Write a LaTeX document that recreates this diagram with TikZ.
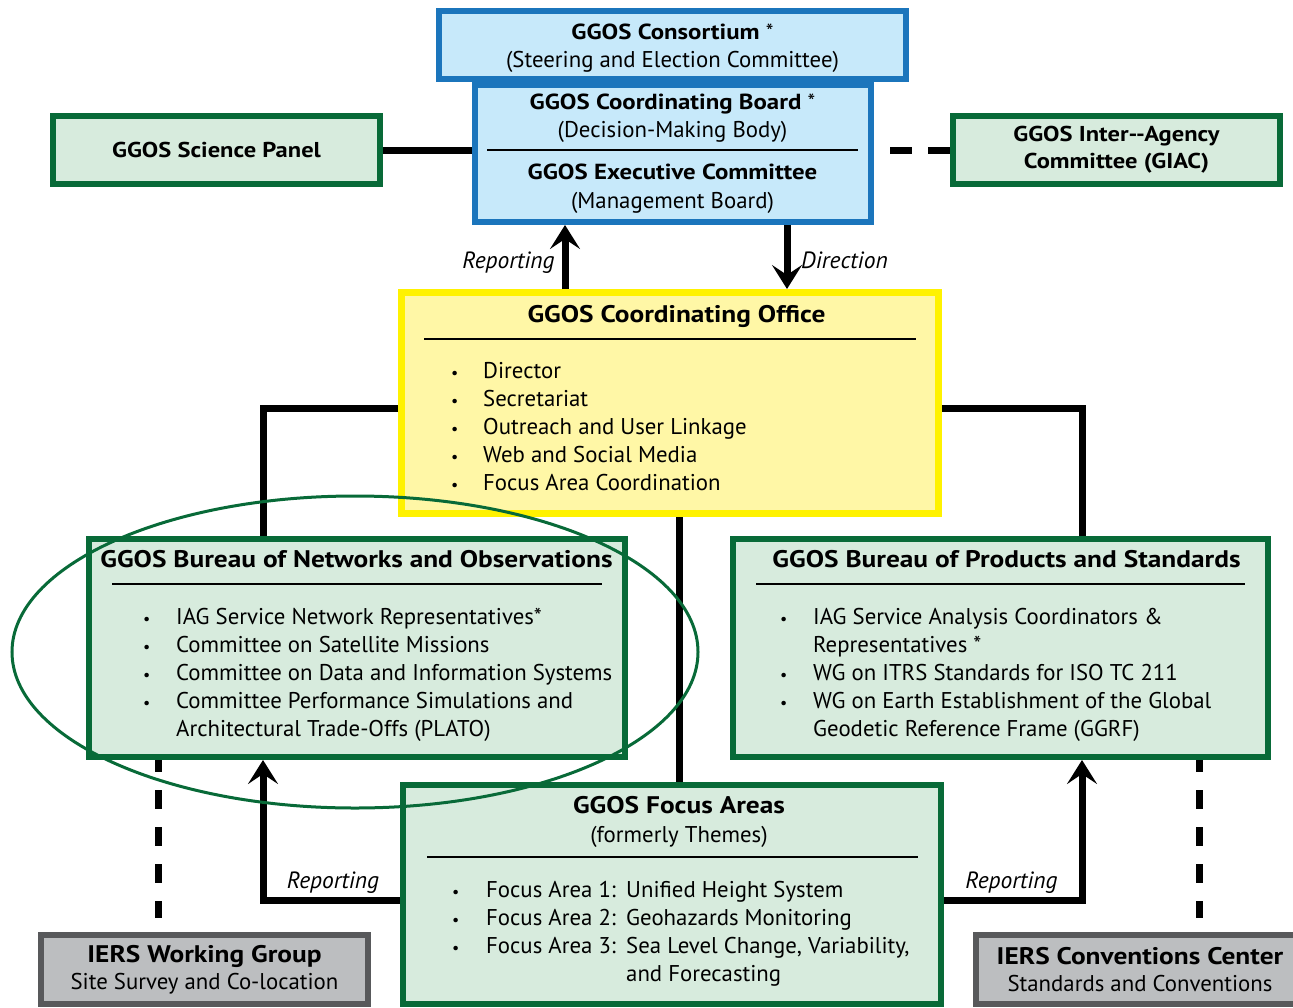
\documentclass[tikz,border=0pt]{standalone}
\usepackage{fontspec}
\setmainfont{PT Sans}[BoldFeatures={FakeStretch=1.14}]
\usetikzlibrary{arrows.meta}
\definecolor{bblue}{HTML}{1B75BC}
\definecolor{fblue}{HTML}{C7E9FA}
\definecolor{bgreen}{HTML}{086A38}
\definecolor{fgreen}{HTML}{D7EBDD}
\definecolor{byellow}{HTML}{FFF200}
\definecolor{fyellow}{HTML}{FFF7A6}
\definecolor{bgray}{HTML}{58595B}
\definecolor{fgray}{HTML}{BCBEC0}
\begin{document}
\begin{tikzpicture}[x=1pt,y=-1pt,
 box/.style={rectangle, line width=6pt, inner sep=0pt, align=center, font=\fontsize{21.5}{27}\selectfont},
 bluebox/.style={box, draw=bblue, fill=fblue},
 greenbox/.style={box, draw=bgreen, fill=fgreen},
 yellowbox/.style={box, draw=byellow, fill=fyellow, line width=7pt},
 graybox/.style={box, draw=bgray, fill=fgray},
 conn/.style={line width=7pt},
 arr/.style={conn, -{Stealth[length=24pt,width=30pt,inset=10pt]}},
 dashv/.style={conn, dash pattern=on 19pt off 18pt, dash phase=7pt},
 dashh/.style={conn, dash pattern=on 22pt off 16pt, dash phase=22pt},
 rulel/.style={line width=2.5pt},
 bt/.style={anchor=base, inner sep=0pt, font=\bfseries\fontsize{24}{28}\selectfont},
 bts/.style={anchor=base, inner sep=0pt, font=\bfseries\fontsize{21.8}{28}\selectfont},
 rt/.style={anchor=base, inner sep=0pt, font=\fontsize{22.8}{28}\selectfont},
 lt/.style={anchor=base west, inner sep=0pt, font=\fontsize{22.8}{28}\selectfont},
 bul/.style={anchor=base west, inner sep=0pt, font=\fontsize{16}{20}\selectfont},
 lab/.style={anchor=base, inner sep=0pt, font=\itshape\fontsize{23.5}{28}\selectfont},
]
\useasboundingbox (0,0) rectangle (1293,1007);
\clip (0,0) rectangle (1293,1007);

% ---------- boxes ----------
\node[bluebox, minimum width=396, minimum height=137] (board) at (673,153.5) {};
\node[bluebox, minimum width=467, minimum height=68] (cons) at (672.5,45) {};
\node[greenbox, minimum width=327, minimum height=68] (sp) at (216.5,150) {\textbf{GGOS Science Panel}};
\node[greenbox, minimum width=327, minimum height=68] (giac) at (1116.5,150) {\textbf{GGOS Inter-{}-Agency}\\\textbf{Committee (GIAC)}};
\node[yellowbox, minimum width=537, minimum height=221] (co) at (670,403) {};
\node[greenbox, minimum width=536, minimum height=218] (bno) at (357,648) {};
\node[greenbox, minimum width=535, minimum height=218] (bps) at (1000.5,648) {};
\node[greenbox, minimum width=538, minimum height=219] (fa) at (672,894.5) {};
\node[graybox, minimum width=327, minimum height=69] (iwg) at (204.5,969.5) {\fontsize{24}{29}\selectfont\textbf{IERS Working Group}\\\fontsize{22.8}{29}\selectfont Site Survey and Co-location};
\node[graybox, minimum width=328, minimum height=69] (icc) at (1140,969.5) {\fontsize{24}{29}\selectfont\textbf{IERS Conventions Center}\\\fontsize{22.8}{29}\selectfont Standards and Conventions};

% ---------- texts: top ----------
\node[bts] (t1) at (672.5,39) {GGOS Consortium \textmd{*}};
\node[rt] (t2) at (672.5,67) {(Steering and Election Committee)};
\node[bts] (t3) at (672.5,109) {GGOS Coordinating Board \textmd{*}};
\node[rt] (t4) at (672.5,137) {(Decision-Making Body)};
\draw[rulel] (487,150) -- (858,150);
\node[bts] (t5) at (672.5,179) {GGOS Executive Committee};
\node[rt] (t6) at (672.5,208) {(Management Board)};

% ---------- coordinating office ----------
\node[bt] (c0) at (676.5,322) {GGOS Coordinating Office};
\draw[rulel] (424,339) -- (916,339);
\foreach \yy/\tt [count=\i] in {378/Director, 406/Secretariat, 434/Outreach and User Linkage, 462/Web and Social Media, 490/Focus Area Coordination}{
  \node[bul] (cb\i) at (451,\yy) {•};
  \node[lt] (ct\i) at (483,\yy) {\tt};
}

% ---------- bureau networks ----------
\node[bt] (n0) at (356.5,567) {GGOS Bureau of Networks and Observations};
\draw[rulel] (112,584) -- (602,584);
\foreach \yy [count=\i] in {624,652,680,708}{ \node[bul] (nb\i) at (143,\yy) {•}; }
\node[lt] (n1) at (176,624) {IAG Service Network Representatives*};
\node[lt] (n2) at (176,652) {Committee on Satellite Missions};
\node[lt] (n3) at (176,680) {Committee on Data and Information Systems};
\node[lt] (n4) at (176,708) {Committee Performance Simulations and};
\node[lt] (n5) at (176,736) {Architectural Trade-Offs (PLATO)};

% ---------- bureau products ----------
\node[bt] (p0) at (1006.5,567) {GGOS Bureau of Products and Standards};
\draw[rulel] (756,584) -- (1245,584);
\foreach \yy [count=\i] in {624,680,708}{ \node[bul] (pb\i) at (780,\yy) {•}; }
\node[lt] (p1) at (813,624) {IAG Service Analysis Coordinators \&};
\node[lt] (p2) at (813,652) {Representatives *};
\node[lt] (p3) at (813,680) {WG on ITRS Standards for ISO TC 211};
\node[lt] (p4) at (813,708) {WG on Earth Establishment of the Global};
\node[lt] (p5) at (813,736) {Geodetic Reference Frame (GGRF)};

% ---------- focus areas ----------
\node[bt] (f0) at (679,813) {GGOS Focus Areas};
\node[rt] (f1) at (679,842) {(formerly Themes)};
\draw[rulel] (427,857) -- (918,857);
\foreach \yy [count=\i] in {897,925,953}{ \node[bul] (fbul\i) at (452,\yy) {•}; }
\node[lt] (fa1) at (486,897) {Focus Area 1:};
\node[lt] (fb1) at (626,897) {Unified Height System};
\node[lt] (fa2) at (486,925) {Focus Area 2:};
\node[lt] (fb2) at (626,925) {Geohazards Monitoring};
\node[lt] (fa3) at (486,953) {Focus Area 3:};
\node[lt] (fb3) at (626,953) {Sea Level Change, Variability,};
\node[lt] (fb4) at (626,981) {and Forecasting};

% ---------- helper coordinates ----------
\coordinate (xrep) at (565,0);
\coordinate (xdir) at (787,0);
\coordinate (yl) at (0,408);
\coordinate (xl) at (263,0);
\coordinate (xr) at (1082,0);
\coordinate (xm) at (679,0);
\coordinate (yb) at (0,900);
\coordinate (xd1) at (158,0);
\coordinate (xd2) at (1199,0);

% ---------- connectors ----------
\draw[conn] (sp.east) -- (sp.east -| board.west);
\draw[dashh] (board.east |- giac.west) -- (giac.west);
\draw[arr] (co.north -| xrep) -- (board.south -| xrep);
\draw[arr] (board.south -| xdir) -- (co.north -| xdir);
\draw[conn] (co.west |- yl) -| (bno.north -| xl);
\draw[conn] (co.east |- yl) -| (bps.north -| xr);
\draw[conn] (co.south -| xm) -- (fa.north -| xm);
\draw[arr] (fa.west |- yb) -| (bno.south -| xl);
\draw[arr] (fa.east |- yb) -| (bps.south -| xr);
\draw[dashv, shorten >=14pt] (bno.south -| xd1) -- (iwg.north -| xd1);
\draw[dashv, shorten >=14pt] (bps.south -| xd2) -- (icc.north -| xd2);

% ---------- labels ----------
\node[lab] (l1) at (508.5,268) {Reporting};
\node[lab] (l2) at (844.5,268) {Direction};
\node[lab] (l3) at (333,888) {Reporting};
\node[lab] (l4) at (1011.5,888) {Reporting};

% ---------- ellipse ----------
\draw[bgreen, line width=3pt] (355,652) ellipse [x radius=343, y radius=156];
\end{tikzpicture}
\end{document}
